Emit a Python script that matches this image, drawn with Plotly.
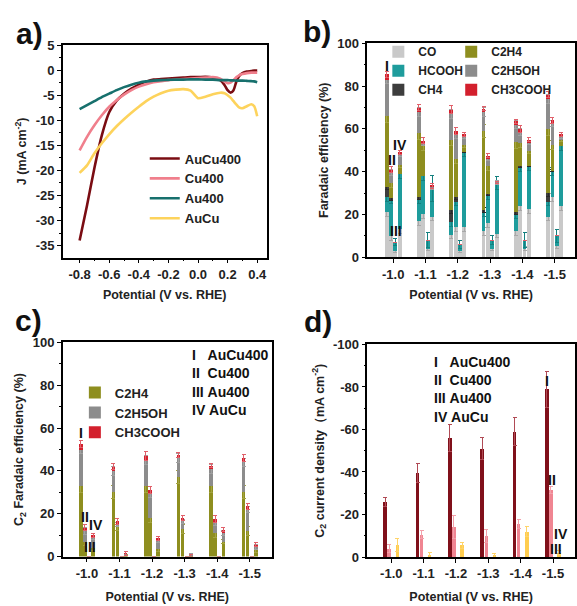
import plotly.graph_objects as go

W, H = 577, 606
FONT = "Liberation Sans, Arial, Helvetica, sans-serif"

# ---------------- Panel a: LSV curves ----------------
potential_lsv = [-0.80, -0.75, -0.70, -0.65, -0.60, -0.55, -0.50, -0.45, -0.40, -0.35,
                 -0.30, -0.25, -0.20, -0.15, -0.10, -0.05, 0.00, 0.05, 0.10, 0.15,
                 0.18, 0.20, 0.22, 0.24, 0.26, 0.28, 0.30, 0.33, 0.36, 0.38, 0.40]
j_AuCu400 = [-34.0, -27.0, -19.5, -13.0, -8.4, -6.1, -4.7, -3.7, -2.9, -2.3,
             -1.9, -1.8, -1.7, -1.6, -1.5, -1.4, -1.4, -1.35, -1.5, -2.0,
             -3.0, -4.0, -4.5, -4.0, -2.2, -1.1, -0.6, -0.3, -0.2, -0.1, -0.1]
j_Cu400 = [-16.0, -13.3, -11.0, -9.0, -7.3, -6.0, -4.9, -4.0, -3.3, -2.8,
           -2.4, -2.2, -2.0, -1.9, -1.8, -1.7, -1.6, -1.5, -1.4, -1.7,
           -2.3, -2.6, -2.5, -2.0, -1.4, -1.0, -0.8, -0.6, -0.5, -0.5, -0.5]
j_Au400 = [-7.8, -7.0, -6.2, -5.4, -4.7, -4.0, -3.4, -2.9, -2.5, -2.25,
           -2.1, -2.0, -1.95, -1.9, -1.9, -1.85, -1.85, -1.9, -1.9, -2.0,
           -2.0, -2.0, -2.05, -2.05, -2.1, -2.1, -2.1, -2.15, -2.2, -2.25, -2.4]
j_AuCu = [-20.5, -19.0, -16.6, -14.6, -12.8, -11.2, -9.8, -8.5, -7.3, -6.2,
          -5.3, -4.6, -4.1, -3.9, -3.8, -4.1, -5.6, -5.3, -4.8, -4.5,
          -4.6, -5.0, -5.5, -6.2, -6.9, -7.5, -7.6, -7.2, -6.8, -7.2, -9.2]

# ---------------- Panels b-d ----------------
potentials = ["-1.0", "-1.1", "-1.2", "-1.3", "-1.4", "-1.5"]
catalysts = ["AuCu400", "Cu400", "Au400", "AuCu"]
numerals = ["I", "II", "III", "IV"]

# Faradaic efficiencies (%), per catalyst over the six potentials
fe_CO = {"AuCu400": [21, 17, 10.5, 12, 12, 19], "Cu400": [10, 20, 14, 16, 24, 28],
         "Au400": [3, 4, 3, 4, 4, 5], "AuCu": [13, 19, 14, 11, 22.5, 24]}
fe_HCOOH = {"AuCu400": [7, 10, 6, 9, 8, 7], "Cu400": [17, 18, 12, 13, 18, 12],
            "Au400": [4, 4, 3, 4, 4, 5], "AuCu": [26, 13, 35, 23.5, 20, 28]}
fe_CH4 = {"AuCu400": [5, 1, 5.5, 1, 1, 4], "Cu400": [0.5, 0, 2, 0.5, 0.5, 0.5],
          "Au400": [0, 0, 0, 0, 0, 0], "AuCu": [0, 0, 0, 0, 0, 0]}
fe_C2H4 = {"AuCu400": [33, 30, 33, 37, 33, 30], "Cu400": [7, 14, 18, 13, 11, 12],
           "Au400": [0, 0, 0, 0, 0, 0], "AuCu": [4, 0.5, 3.5, 0.3, 7, 3]}
fe_C2H5OH = {"AuCu400": [17, 10, 12, 9, 8, 14], "Cu400": [5, 1, 11, 3.5, 5, 10],
             "Au400": [0, 0, 0, 0, 0, 0], "AuCu": [5, 0.5, 4, 0.2, 4, 1.5]}
fe_CH3COOH = {"AuCu400": [2.5, 2, 2, 1.5, 1.5, 2], "Cu400": [1.5, 1.5, 2, 1.5, 1.5, 1.5],
              "Au400": [0, 0, 0, 0, 0, 0], "AuCu": [1, 0.3, 1, 0, 1.5, 1]}

err_CO = {"AuCu400": [2, 2, 2, 2, 2, 2], "Cu400": [2, 2, 2, 2, 2, 2],
          "Au400": [1, 1, 1, 1, 1, 1], "AuCu": [2, 2, 2, 2, 2, 2]}
err_HCOOH = {"AuCu400": [2, 2, 2, 2, 2, 2], "Cu400": [2, 2, 2, 2, 2, 2],
             "Au400": [1.5, 3.5, 2, 2, 3.5, 3], "AuCu": [2, 6, 2, 3, 2, 2]}
err_CH4 = {"AuCu400": [1.5, 1, 1.5, 1, 1, 1.5], "Cu400": [1, 0, 1, 0.5, 0.5, 0.5],
           "Au400": [0, 0, 0, 0, 0, 0], "AuCu": [0, 0, 0, 0, 0, 0]}
err_C2H4 = {"AuCu400": [3, 3, 3, 3, 3, 3], "Cu400": [2, 2, 2, 2, 2, 2],
            "Au400": [0, 0, 0, 0, 0, 0], "AuCu": [1, 0.5, 1, 0.5, 1, 1]}
err_C2H5OH = {"AuCu400": [2, 2, 2, 2, 2, 2], "Cu400": [1.5, 1, 1.5, 1, 1.5, 1.5],
              "Au400": [0, 0, 0, 0, 0, 0], "AuCu": [1, 1.5, 1, 0.8, 1, 1]}
err_CH3COOH = {"AuCu400": [1.5, 1.5, 2, 1, 1, 1.5], "Cu400": [1.5, 1.5, 1.5, 1, 1.5, 1.5],
               "Au400": [0, 0, 0, 0, 0, 0], "AuCu": [1, 1, 1, 0.5, 1, 1]}

# C2 partial current density (mA cm-2)
jc2 = {"AuCu400": [-26, -39.5, -56, -51, -59, -79], "Cu400": [-4, -10.5, -14, -10, -15.5, -31.5],
       "Au400": [0, 0, 0, 0, 0, 0], "AuCu": [-5.5, -0.5, -5.5, -0.5, -12, -2]}
jc2_err = {"AuCu400": [2, 4.5, 6.5, 5, 6.5, 8.5], "Cu400": [2, 2, 5.5, 3, 2, 1.5],
           "Au400": [0, 0, 0, 0, 0, 0], "AuCu": [3, 1.5, 1.5, 1, 2.5, 1]}

species_b = [("CO", fe_CO, err_CO, "#c9c9c9", "#a8a8a8", "legend2"),
             ("HCOOH", fe_HCOOH, err_HCOOH, "#1e9c9c", "#14807f", "legend2"),
             ("CH4", fe_CH4, err_CH4, "#3d3d3d", "#2a2a2a", "legend2"),
             ("C2H4", fe_C2H4, err_C2H4, "#8e8e1f", "#a3a340", "legend3"),
             ("C2H5OH", fe_C2H5OH, err_C2H5OH, "#8c8c8c", "#a0a0a0", "legend3"),
             ("CH3COOH", fe_CH3COOH, err_CH3COOH, "#d3202d", "#e0606a", "legend3")]
cat_colors_d = {"AuCu400": "#80101a", "Cu400": "#f08592", "Au400": "#1a6e6c", "AuCu": "#ffcd4f"}
cat_err_d = {"AuCu400": "#b04a55", "Cu400": "#f3a0aa", "Au400": "#1a6e6c", "AuCu": "#ffd46a"}


def flat_x(spacing):
    return [g + (k - 1.5) * spacing for k in range(len(catalysts)) for g in range(len(potentials))]


def flat_y(d):
    return [v for c in catalysts for v in d[c]]


fig = go.Figure()

# panel a
for name, yv, col in [("AuCu400", j_AuCu400, "#7a0c12"), ("Cu400", j_Cu400, "#f07f8c"),
                      ("Au400", j_Au400, "#17706d"), ("AuCu", j_AuCu, "#fdd35c")]:
    fig.add_trace(go.Scatter(x=potential_lsv, y=yv, mode="lines", name=name,
                             line=dict(color=col, width=2.6, shape="spline", smoothing=0.6),
                             xaxis="x", yaxis="y", legend="legend"))

# panel b
xb = flat_x(0.135)
for name, d, e, col, ecol, lg in species_b:
    fig.add_trace(go.Bar(x=xb, y=flat_y(d), name=name, width=0.12,
                         marker=dict(color=col, line=dict(width=0)),
                         error_y=dict(type="data", array=flat_y(e), color=ecol, thickness=1, width=2),
                         xaxis="x2", yaxis="y2", legend=lg))

# panel c
xc = flat_x(0.126)
for name, d, e, col, ecol, lg in species_b[3:]:
    fig.add_trace(go.Bar(x=xc, y=flat_y(d), name=name, width=0.11,
                         marker=dict(color=col, line=dict(width=0)),
                         error_y=dict(type="data", array=flat_y(e), color=ecol, thickness=1, width=2),
                         xaxis="x3", yaxis="y3", legend="legend4"))

# panel d
for k, c in enumerate(catalysts):
    xd = [g + (k - 1.5) * 0.125 for g in range(len(potentials))]
    fig.add_trace(go.Bar(x=xd, y=jc2[c], name=c, width=0.11, showlegend=False,
                         marker=dict(color=cat_colors_d[c], line=dict(width=0)),
                         error_y=dict(type="data", array=jc2_err[c], color=cat_err_d[c], thickness=1, width=2),
                         xaxis="x4", yaxis="y4"))


def px(x):
    return x / W


def py(y):
    return 1 - y / H


axis_common = dict(showline=True, linecolor="black", linewidth=1.5, mirror=True,
                   ticks="outside", ticklen=4, tickwidth=1.3, tickcolor="black",
                   showgrid=False, zeroline=False,
                   tickfont=dict(family=FONT, size=13, color="#222", weight="bold"))
title_font = dict(family=FONT, size=12.5, color="#222", weight="bold")

ticks_a_x = [-0.8, -0.6, -0.4, -0.2, 0.0, 0.2, 0.4]
ticks_a_y = [5, 0, -5, -10, -15, -20, -25, -30, -35]
ticks_fe = [0, 20, 40, 60, 80, 100]
ticks_d = [0, -20, -40, -60, -80, -100]

fig.update_layout(
    width=W, height=H, margin=dict(l=0, r=0, t=0, b=0),
    paper_bgcolor="white", plot_bgcolor="white", barmode="stack",
    font=dict(family=FONT, color="#222"),
    xaxis=dict(axis_common, domain=[px(63), px(267)], range=[-0.913, 0.463],
               tickvals=ticks_a_x, ticktext=[f"{v:.1f}".replace("-0.0", "0.0") for v in ticks_a_x],
               minor=dict(ticks="outside", ticklen=2, tickvals=[-0.7, -0.5, -0.3, -0.1, 0.1, 0.3], tickcolor="black"),
               title=dict(text="Potential (V vs. RHE)", font=title_font, standoff=9), anchor="y"),
    yaxis=dict(axis_common, domain=[py(257), py(39)], range=[-37.4, 5],
               tickvals=ticks_a_y, ticktext=[str(v) for v in ticks_a_y],
               minor=dict(ticks="outside", ticklen=2, dtick=2.5, tickcolor="black"),
               title=dict(text="J (mA cm<sup>-2</sup>)", font=title_font, standoff=6), anchor="x"),
    xaxis2=dict(axis_common, domain=[px(368), px(576)], range=[-0.8, 5.63],
                tickvals=list(range(6)), ticktext=potentials,
                title=dict(text="Potential (V vs. RHE)", font=title_font, standoff=10), anchor="y2"),
    yaxis2=dict(axis_common, domain=[py(256.5), py(37.3)], range=[0, 100],
                tickvals=ticks_fe, ticktext=[str(v) for v in ticks_fe],
                minor=dict(ticks="outside", ticklen=2, dtick=10, tickcolor="black"),
                title=dict(text="Faradaic efficiency (%)", font=title_font, standoff=6), anchor="x2"),
    xaxis3=dict(axis_common, domain=[px(63), px(272)], range=[-0.74, 5.67],
                tickvals=list(range(6)), ticktext=potentials,
                title=dict(text="Potential (V vs. RHE)", font=title_font, standoff=12), anchor="y3"),
    yaxis3=dict(axis_common, domain=[py(563.5), py(344)], range=[0, 100],
                tickvals=ticks_fe, ticktext=[str(v) for v in ticks_fe],
                minor=dict(ticks="outside", ticklen=2, dtick=10, tickcolor="black"),
                title=dict(text="C<sub>2</sub> Faradaic efficiency (%)", font=title_font, standoff=6), anchor="x3"),
    xaxis4=dict(axis_common, domain=[px(368), px(576)], range=[-0.74, 5.68],
                tickvals=list(range(6)), ticktext=potentials,
                title=dict(text="Potential (V vs. RHE)", font=title_font, standoff=12), anchor="y4"),
    yaxis4=dict(axis_common, domain=[py(564), py(346)], range=[0, -100],
                tickvals=ticks_d, ticktext=[str(v) for v in ticks_d],
                minor=dict(ticks="outside", ticklen=2, dtick=10, tickcolor="black"),
                title=dict(text="C<sub>2</sub> current density（mA cm<sup>-2</sup>)", font=title_font, standoff=6),
                anchor="x4"),
    legend=dict(x=px(145), y=py(140), xanchor="left", yanchor="top", bgcolor="rgba(0,0,0,0)",
                font=dict(family=FONT, size=13, color="#222", weight="bold"), traceorder="normal"),
    legend2=dict(x=px(379), y=py(31), xanchor="left", yanchor="top", bgcolor="rgba(0,0,0,0)",
                 font=dict(family=FONT, size=12, color="#222", weight="bold"), traceorder="normal"),
    legend3=dict(x=px(452), y=py(31), xanchor="left", yanchor="top", bgcolor="rgba(0,0,0,0)",
                 font=dict(family=FONT, size=12, color="#222", weight="bold"), traceorder="normal"),
    legend4=dict(x=px(75), y=py(380), xanchor="left", yanchor="top", bgcolor="rgba(0,0,0,0)",
                 font=dict(family=FONT, size=13, color="#222", weight="bold"), traceorder="normal"),
)

ann = []


def label(text, x, y, size=14, xanchor="center"):
    ann.append(dict(text=text, x=px(x), y=py(y), xref="paper", yref="paper", showarrow=False,
                    xanchor=xanchor, yanchor="middle",
                    font=dict(family=FONT, size=size, color="#111", weight="bold")))


label("a)", 30, 27, 30)
label("b)", 318, 25, 30)
label("c)", 29, 321, 30)
label("d)", 319, 322, 30)

# roman numeral markers
label("I", 388, 60)
label("II", 393, 157)
label("IV", 401, 142)
label("III", 397, 230)
label("I", 81, 437)
label("II", 85, 523)
label("IV", 96, 531)
label("III", 90, 554)
label("I", 548, 384)
label("II", 553, 485)
label("IV", 562, 540)
label("III", 557, 556)

# catalyst keys
for k, (n, c) in enumerate(zip(numerals, catalysts)):
    pad = "\u00a0" * (3 if n == "I" else (2 if n == "II" else 1))
    label(f"{n}{pad}{c}", 190, 357 + 18.7 * k, 14, "left")
    label(f"{n}{pad}{c}", 433, 364 + 18.7 * k, 14, "left")

fig.update_layout(annotations=ann)
fig.write_html("out.html", config={"displayModeBar": False},
               post_script="document.body.style.margin='0px';document.body.style.overflow='hidden';")
